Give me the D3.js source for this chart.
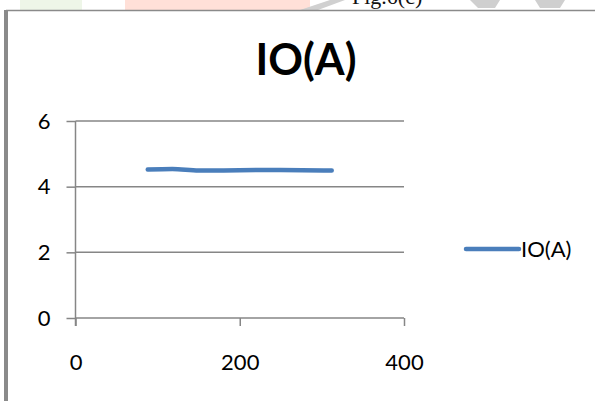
<!DOCTYPE html>
<html>
<head>
<meta charset="utf-8">
<script src="https://cdn.jsdelivr.net/npm/d3@7"></script>
<style>
  html, body { margin: 0; padding: 0; background: #fff; }
  svg { display: block; }
</style>
</head>
<body>
<svg id="chart" width="595" height="401"></svg>
<script>
// Output current readings
const seriesName = "IO(A)";
const loadX = [88, 118, 150, 200, 250, 312];
const currentA = [4.52, 4.54, 4.49, 4.50, 4.51, 4.49];
const xTicks = [0, 200, 400];
const yTicks = [0, 2, 4, 6];

const svg = d3.select("#chart");
const axisColor = "#868686";
const lineColor = "#4a7ebb";
const font = "Lato, 'Open Sans', sans-serif";

// page furniture: header strip with figure caption and rules
const header = svg.append("g");
header.append("rect").attr("x", 20).attr("y", 0).attr("width", 62).attr("height", 10).attr("fill", "#eef6e8");
header.append("rect").attr("x", 125).attr("y", 0).attr("width", 185).attr("height", 10).attr("fill", "#ffe0d8");
header.append("path").attr("d", "M300,10 L330,0 L345,0 L318,10 Z").attr("fill", "#d0d0d0");
header.append("path").attr("d", "M470,0 L500,0 L495,8 L478,8 Z").attr("fill", "#cfcfcf");
header.append("path").attr("d", "M535,0 L565,0 L560,8 L540,8 Z").attr("fill", "#cfcfcf");
header.append("text").attr("x", 352).attr("y", 4)
  .attr("font-family", "'Liberation Serif', 'DejaVu Serif', serif")
  .attr("font-size", 22).attr("fill", "#111").text("Fig.6(c)");
header.append("line").attr("x1", 6).attr("x2", 595).attr("y1", 10.5).attr("y2", 10.5)
  .attr("stroke", "#8a8a8a").attr("stroke-width", 1.5);
svg.append("rect").attr("x", 4).attr("y", 10).attr("width", 4).attr("height", 391).attr("fill", "#8a8a8a");

// scales
const x = d3.scaleLinear().domain([0, 400]).range([75.5, 404]);
const y = d3.scaleLinear().domain([0, 6]).range([318, 121]);

// horizontal gridlines
svg.append("g").selectAll("line").data(yTicks.filter(d => d > 0)).join("line")
  .attr("x1", x(0)).attr("x2", x(400))
  .attr("y1", d => y(d)).attr("y2", d => y(d))
  .attr("stroke", axisColor).attr("stroke-width", 1.5);

// y axis
const yAxis = svg.append("g").attr("transform", `translate(${x(0)},0)`)
  .call(d3.axisLeft(y).tickValues(yTicks).tickSize(9).tickPadding(16).tickFormat(d3.format("d")));
// x axis
const xAxis = svg.append("g").attr("transform", `translate(0,${y(0)})`)
  .call(d3.axisBottom(x).tickValues(xTicks).tickSize(8).tickPadding(28).tickFormat(d3.format("d")));

[yAxis, xAxis].forEach(a => {
  a.selectAll("path.domain").attr("stroke", axisColor).attr("stroke-width", 1.5);
  a.selectAll(".tick line").attr("stroke", axisColor).attr("stroke-width", 1.5);
  a.selectAll("text").attr("font-family", font).attr("font-size", 22).attr("fill", "#000");
});
yAxis.select("path.domain").attr("d", `M-9,${y(6)}H0V${y(0)}`);
yAxis.select("path.domain").attr("d", `M0,${y(6)}V${y(0)}`);
xAxis.select("path.domain").attr("d", `M${x(0)},0H${x(400)}`);
// y-axis line runs down into the first x tick
svg.append("line").attr("x1", x(0)).attr("x2", x(0)).attr("y1", y(0)).attr("y2", y(0) + 8)
  .attr("stroke", axisColor).attr("stroke-width", 1.5);

// series line
const pts = loadX.map((v, i) => [v, currentA[i]]);
svg.append("path").datum(pts)
  .attr("fill", "none").attr("stroke", lineColor).attr("stroke-width", 4.5)
  .attr("stroke-linecap", "round").attr("stroke-linejoin", "round")
  .attr("d", d3.line().x(d => x(d[0])).y(d => y(d[1])).curve(d3.curveMonotoneX));

// title
svg.append("text").attr("x", 306).attr("y", 75).attr("text-anchor", "middle")
  .attr("font-family", font).attr("font-weight", "bold").attr("font-size", 43)
  .attr("fill", "#000").text(seriesName);

// legend
const lg = svg.append("g").attr("transform", "translate(466,249)");
lg.append("line").attr("x1", 0).attr("x2", 53).attr("y1", 0).attr("y2", 0)
  .attr("stroke", lineColor).attr("stroke-width", 4.5).attr("stroke-linecap", "round");
lg.append("text").attr("x", 55).attr("y", 0).attr("dy", "0.35em")
  .attr("font-family", font).attr("font-size", 22).attr("fill", "#000").text(seriesName);
</script>
</body>
</html>
